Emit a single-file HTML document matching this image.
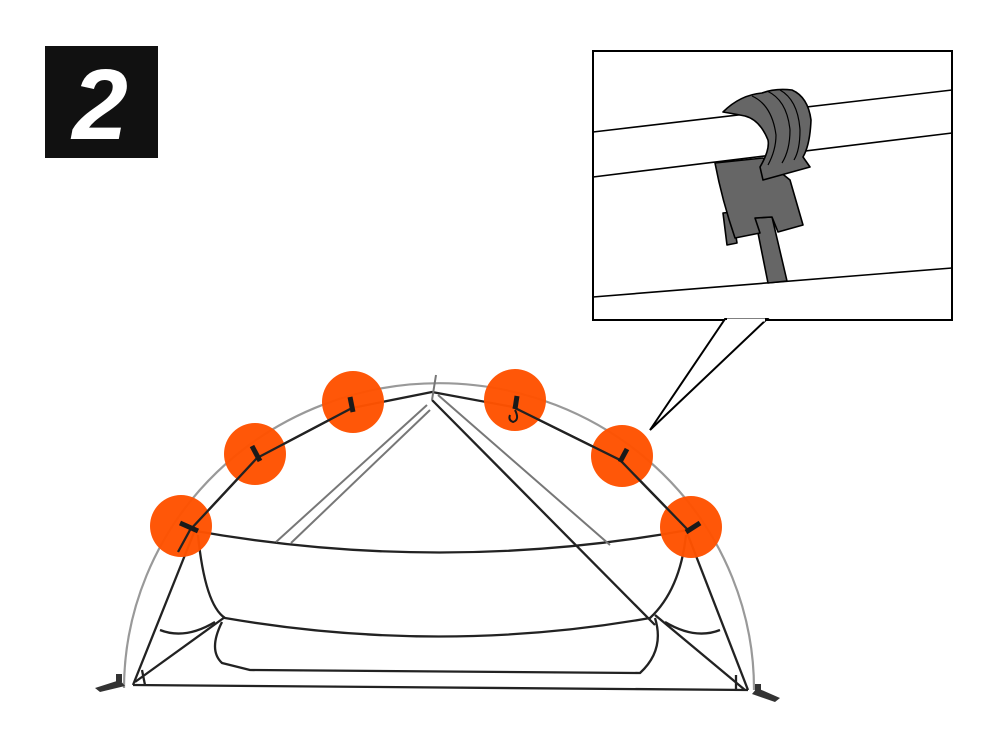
<!DOCTYPE html>
<html><head><meta charset="utf-8"><style>
html,body{margin:0;padding:0;background:#fff;width:1000px;height:750px;overflow:hidden}
svg{display:block}
</style></head><body>
<svg width="1000" height="750" viewBox="0 0 1000 750" xmlns="http://www.w3.org/2000/svg">
<rect x="45" y="46" width="113" height="112" fill="#111"/>
<text x="100" y="139" text-anchor="middle" font-family="Liberation Sans, sans-serif" font-weight="bold" font-style="italic" font-size="100" fill="#fff">2</text>

<!-- inset -->
<rect x="593" y="51" width="359" height="269" fill="#fff" stroke="#000" stroke-width="2"/>
<g stroke="#000" stroke-width="1.6">
<line x1="593" y1="132" x2="952" y2="90"/>
<line x1="593" y1="177" x2="952" y2="133"/>
<line x1="593" y1="297" x2="952" y2="268"/>
</g>
<g fill="#666" stroke="#000" stroke-width="1.6" stroke-linejoin="round">
<polygon points="755,218 772,217 787,281 768,283"/>
<polygon points="723,213 732,212 737,243 727,245"/>
<path d="M715,163 L763,158 L790,180 L803,225 L778,232 L772,217 L755,218 L760,233 L735,238 Q722,200 715,163Z"/>
<path d="M723,112 Q740,95 762,93 Q775,88 792,90 Q808,97 811,120 Q810,145 803,157 L810,167 L763,180 L760,167 Q770,150 768,140 Q760,120 745,116 Q735,114 723,112Z"/>
</g>
<g fill="none" stroke="#000" stroke-width="1.2">
<path d="M752,96 Q772,105 776,135 Q776,150 768,165"/>
<path d="M767,91 Q787,100 790,130 Q790,150 782,163"/>
<path d="M780,90 Q798,100 800,130 Q800,150 794,160"/>
</g>
<polygon points="725,319 650,430 767,319" fill="#fff" stroke="#000" stroke-width="2"/>
<line x1="727" y1="320" x2="765" y2="320" stroke="#fff" stroke-width="3"/>

<!-- tent -->
<path d="M124,688 A312,303 0 0 1 754,690" fill="none" stroke="#999" stroke-width="2.2"/>
<g fill="none" stroke="#222" stroke-width="2.3" stroke-linejoin="round">
<polyline points="190,530 257,458 352,408 432,392 513,407 620,460 688,530"/>
<path d="M190,530 Q440,575 688,530"/>
<line x1="195" y1="530" x2="133" y2="685"/>
<line x1="686" y1="530" x2="748" y2="690"/>
<line x1="133" y1="685" x2="748" y2="690"/>
<line x1="432" y1="400" x2="655" y2="625"/>
<path d="M198,535 Q205,605 225,618 Q440,655 650,618 Q680,590 686,535"/>
<path d="M222,622 Q208,650 222,663 L250,670 L640,673 Q665,650 655,618"/>
<line x1="135" y1="682" x2="225" y2="617"/>
<line x1="745" y1="690" x2="655" y2="615"/>
<path d="M160,630 Q185,640 215,622"/>
<path d="M720,630 Q695,640 665,622"/>
<line x1="142" y1="670" x2="145" y2="685"/>
<line x1="736" y1="675" x2="736" y2="690"/>
</g>
<g fill="none" stroke="#777" stroke-width="2">
<line x1="427" y1="405" x2="276" y2="542"/>
<line x1="430" y1="410" x2="291" y2="543"/>
<line x1="438" y1="395" x2="610" y2="545"/>
<line x1="436" y1="375" x2="432" y2="400"/>
</g>
<g fill="#333">
<path d="M95,688 L120,680 L125,686 L100,692Z"/><rect x="116" y="674" width="6" height="8"/>
<path d="M780,698 L757,688 L752,694 L775,702Z"/><rect x="755" y="684" width="6" height="8"/>
</g>
<g fill="#ff5200" fill-opacity="0.97">
<ellipse cx="181" cy="526" rx="31" ry="31"/>
<ellipse cx="255" cy="454" rx="31" ry="31"/>
<ellipse cx="353" cy="402" rx="31" ry="31"/>
<ellipse cx="515" cy="400" rx="31" ry="31"/>
<ellipse cx="622" cy="456" rx="31" ry="31"/>
<ellipse cx="691" cy="527" rx="31" ry="31"/>
</g>
<g fill="none" stroke="#222" stroke-width="2.3">
<polyline points="190,530 257,458 352,408"/>
<polyline points="513,407 620,460 688,530"/>
<line x1="190" y1="530" x2="178" y2="552"/>
</g>
<g stroke="#1a1a1a" stroke-width="5">
<line x1="180" y1="523" x2="198" y2="531"/>
<line x1="252" y1="446" x2="260" y2="461"/>
<line x1="350" y1="397" x2="353" y2="412"/>
<line x1="517" y1="396" x2="515" y2="409"/>
<line x1="627" y1="449" x2="620" y2="462"/>
<line x1="700" y1="523" x2="686" y2="532"/>
</g>
<path d="M515,410 Q520,420 513,422 Q508,420 510,415" fill="none" stroke="#1a1a1a" stroke-width="2"/>
</svg>
</body></html>
